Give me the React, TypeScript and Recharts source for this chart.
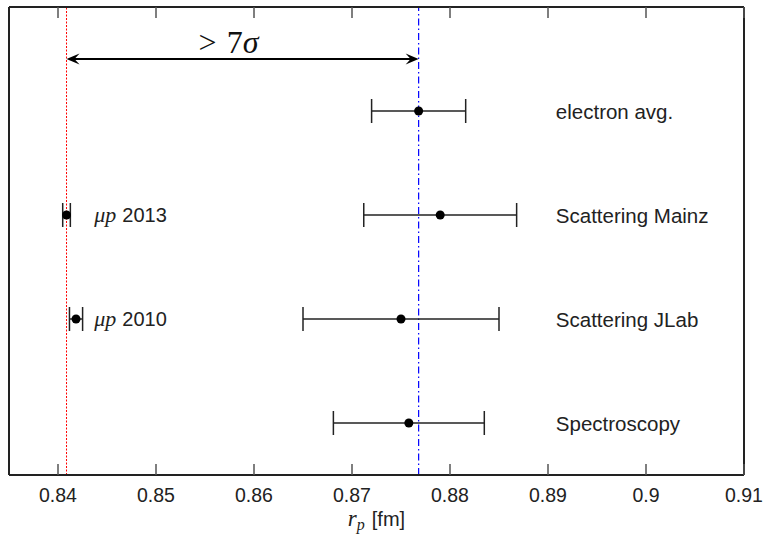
import React from 'react';
import { ScatterChart, Scatter, XAxis, YAxis, ErrorBar, ReferenceLine, Label } from 'recharts';

// ---- data ----
const xTicks = [0.84, 0.85, 0.86, 0.87, 0.88, 0.89, 0.9, 0.91];
const xDomain = [0.835, 0.91];
const yDomain = [0.5, 5];

const electronLabels = ['Spectroscopy', 'Scattering JLab', 'Scattering Mainz', 'electron avg.'];
const electronRows = [1, 2, 3, 4];
const electronValues = [0.8758, 0.875, 0.879, 0.8768];
const electronErrors = [0.0077, 0.01, 0.0078, 0.0048];
const electronLabelX = 0.8908;

const muonPrefix = 'μp';
const muonYears = ['2010', '2013'];
const muonRows = [2, 3];
const muonValues = [0.84184, 0.84087];
const muonErrors = [0.00067, 0.00039];
const muonLabelX = 0.8437;

const muonRadius = 0.84087;
const electronRadius = 0.8768;
const arrowRow = 4.5;
const sigmaRelation = '>';
const sigmaValue = '7';
const sigmaSymbol = 'σ';

const axisVar = 'r';
const axisSub = 'p';
const axisUnit = '[fm]';

const SANS = '"Liberation Sans", Arial, sans-serif';
const SERIF = '"Liberation Serif", "DejaVu Serif", serif';

const electronData = electronRows.map((r, i) => ({ x: electronValues[i], y: r, err: electronErrors[i] }));
const muonData = muonRows.map((r, i) => ({ x: muonValues[i], y: r, err: muonErrors[i] }));
const electronLabelData = electronRows.map((r, i) => ({ x: electronLabelX, y: r, text: electronLabels[i] }));
const muonLabelData = muonRows.map((r, i) => ({ x: muonLabelX, y: r, text: muonYears[i] }));

const Dot = (p: any) => <circle cx={p.cx} cy={p.cy} r={4.5} fill="#000" />;

const ElectronLabel = (p: any) => (
  <text x={p.cx} y={p.cy + 8} fontFamily={SANS} fontSize={20.5} fill="#222">
    {p.payload.text}
  </text>
);

const MuonLabel = (p: any) => (
  <text x={p.cx} y={p.cy + 7} fill="#222">
    <tspan fontFamily={SERIF} fontStyle="italic" fontSize={22}>{muonPrefix}</tspan>
    <tspan fontFamily={SANS} fontSize={20} dx={6}>{p.payload.text}</tspan>
  </text>
);

const BottomTick = (p: any) => (
  <g>
    <line x1={p.x} x2={p.x} y1={p.y} y2={p.y - 11} stroke="#555" strokeWidth={1.5} />
    <text x={p.x} y={p.y + 27} textAnchor="middle" fontFamily={SANS} fontSize={19.5} fill="#222">
      {String(p.payload.value)}
    </text>
  </g>
);

const TopTick = (p: any) => (
  <line x1={p.x} x2={p.x} y1={p.y} y2={p.y + 11} stroke="#555" strokeWidth={1.5} />
);

const ArrowShape = (p: any) => {
  const { x1, y1, x2 } = p;
  const left = Math.min(x1, x2);
  const right = Math.max(x1, x2);
  const y = y1;
  const tx = left + (right - left) * 0.46;
  return (
    <g>
      <line x1={left + 6} x2={right - 6} y1={y} y2={y} stroke="#000" strokeWidth={2} />
      <path d={`M${left},${y} L${left + 13},${y - 5.5} L${left + 8},${y} L${left + 13},${y + 5.5} Z`} fill="#000" />
      <path d={`M${right},${y} L${right - 13},${y - 5.5} L${right - 8},${y} L${right - 13},${y + 5.5} Z`} fill="#000" />
      <text x={tx} y={y - 6} textAnchor="middle" fontFamily={SERIF} fontSize={32} fill="#111">
        <tspan>{sigmaRelation}</tspan>
        <tspan dx={10}>{sigmaValue}</tspan>
        <tspan fontStyle="italic">{sigmaSymbol}</tspan>
      </text>
    </g>
  );
};

const AxisTitle = (p: any) => {
  const vb = p.viewBox || {};
  const cx = vb.x + vb.width / 2;
  const y = vb.y + 51;
  return (
    <text x={cx} y={y} textAnchor="middle" fill="#222">
      <tspan fontFamily={SERIF} fontStyle="italic" fontSize={23}>{axisVar}</tspan>
      <tspan fontFamily={SERIF} fontStyle="italic" fontSize={16} dy={4}>{axisSub}</tspan>
      <tspan fontFamily={SANS} fontSize={20} dy={-4} dx={7}>{axisUnit}</tspan>
    </text>
  );
};

const frameLine = { stroke: '#222', strokeWidth: 2 };

export default function App() {
  return (
    <div style={{ position: 'absolute', left: 0, top: 0, background: '#fff' }}>
      <ScatterChart width={764} height={537} margin={{ top: 6, right: 19, bottom: 0, left: 8 }}>
        <XAxis
          xAxisId="b"
          orientation="bottom"
          type="number"
          dataKey="x"
          domain={xDomain}
          ticks={xTicks}
          interval={0}
          allowDataOverflow
          height={62}
          tickSize={0}
          tickMargin={0}
          tickLine={false}
          axisLine={frameLine}
          tick={<BottomTick />}
        >
          <Label content={<AxisTitle />} />
        </XAxis>
        <XAxis
          xAxisId="t"
          orientation="top"
          type="number"
          dataKey="x"
          domain={xDomain}
          ticks={xTicks}
          interval={0}
          allowDataOverflow
          height={1}
          tickSize={0}
          tickMargin={0}
          tickLine={false}
          axisLine={frameLine}
          tick={<TopTick />}
        />
        <YAxis
          yAxisId="l"
          type="number"
          dataKey="y"
          domain={yDomain}
          allowDataOverflow
          width={1}
          tick={false}
          tickLine={false}
          axisLine={frameLine}
        />
        <YAxis
          yAxisId="r"
          orientation="right"
          type="number"
          dataKey="y"
          domain={yDomain}
          allowDataOverflow
          width={1}
          tick={false}
          tickLine={false}
          axisLine={frameLine}
        />
        <ReferenceLine xAxisId="b" yAxisId="l" x={muonRadius} stroke="#ff0000" strokeWidth={1} strokeDasharray="2 1.5" />
        <ReferenceLine xAxisId="b" yAxisId="l" x={electronRadius} stroke="#0000ff" strokeWidth={1.2} strokeDasharray="7 3 1.5 3" />
        <ReferenceLine
          xAxisId="b"
          yAxisId="l"
          segment={[{ x: muonRadius, y: arrowRow }, { x: electronRadius, y: arrowRow }]}
          shape={ArrowShape}
        />
        <Scatter xAxisId="b" yAxisId="l" data={electronData} shape={Dot} isAnimationActive={false}>
          <ErrorBar dataKey="err" direction="x" width={12} stroke="#222" strokeWidth={1.5} isAnimationActive={false} />
        </Scatter>
        <Scatter xAxisId="b" yAxisId="l" data={muonData} shape={Dot} isAnimationActive={false}>
          <ErrorBar dataKey="err" direction="x" width={12} stroke="#222" strokeWidth={1.5} isAnimationActive={false} />
        </Scatter>
        <Scatter xAxisId="b" yAxisId="l" data={electronLabelData} shape={ElectronLabel} isAnimationActive={false} />
        <Scatter xAxisId="b" yAxisId="l" data={muonLabelData} shape={MuonLabel} isAnimationActive={false} />
      </ScatterChart>
    </div>
  );
}
